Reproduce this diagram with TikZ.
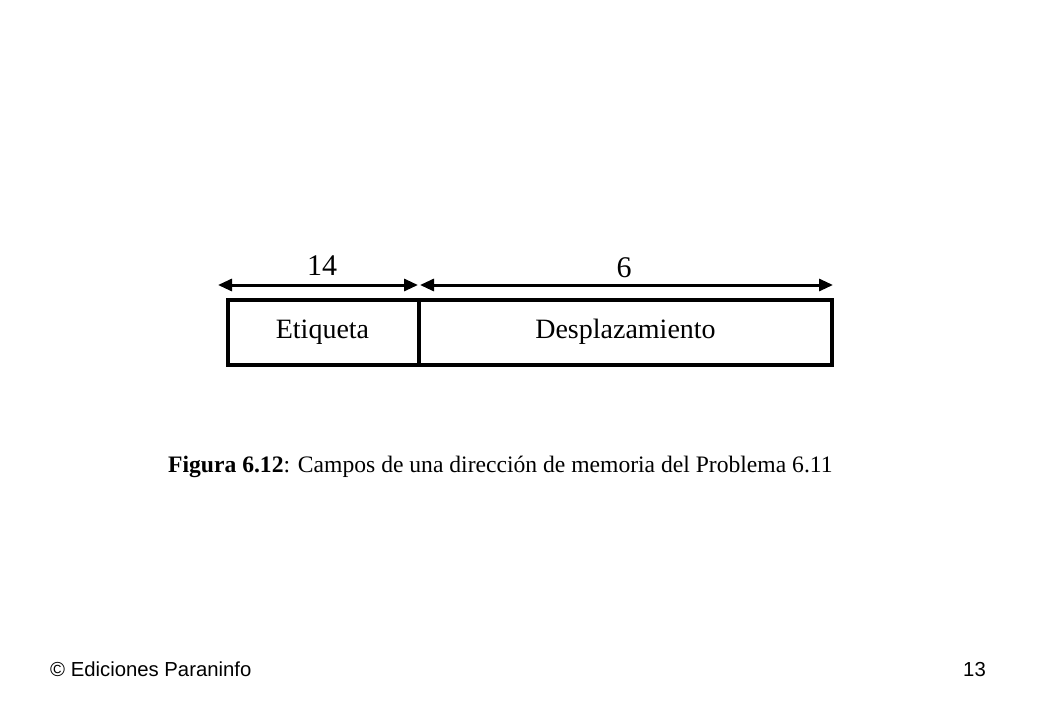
\documentclass[tikz,border=0pt]{standalone}
\usepackage{fontspec}
\setmainfont{Liberation Serif}
\newfontfamily\arialfont{Liberation Sans}
\usetikzlibrary{arrows.meta}
\begin{document}
\begin{tikzpicture}[x=1pt,y=-1pt,
  fieldbox/.style={draw,line width=3.2pt,inner sep=0pt},
  dimarrow/.style={line width=3pt,{Triangle[length=14pt,width=12pt]}-{Triangle[length=14pt,width=12pt]}},
  dimlabel/.style={font=\fontsize{28}{30}\selectfont,inner sep=0pt}]
\useasboundingbox (0,0) rectangle (1040,720);
\draw[fieldbox] (228,300) rectangle (419,365);
\draw[fieldbox] (419,300) rectangle (832,365);
\node[dimlabel] (et) at (322.5,332) {Etiqueta};
\node[dimlabel] (de) at (625.5,332) {Desplazamiento};
\coordinate (a1) at (218,285);
\coordinate (a2) at (418,285);
\coordinate (b1) at (420,285);
\coordinate (b2) at (833,285);
\draw[dimarrow] (a1) -- (a2);
\draw[dimarrow] (b1) -- (b2);
\node[dimlabel,font=\fontsize{30}{32}\selectfont] (l14) at (322,266) {14};
\node[dimlabel,font=\fontsize{30}{32}\selectfont] (l6) at (624,268) {6};
\node[anchor=base west,inner sep=0pt,font=\fontsize{23.6}{26}\selectfont] (cap) at (168,472) {\textbf{Figura 6.12}: Campos de una dirección de memoria del Problema 6.11};
\node[anchor=base west,inner sep=0pt,font=\arialfont\fontsize{20.3}{22}\selectfont] (foot) at (50,676) {© Ediciones Paraninfo};
\node[anchor=base east,inner sep=0pt,font=\arialfont\fontsize{20.3}{22}\selectfont] (pg) at (986,676) {13};
\end{tikzpicture}
\end{document}
